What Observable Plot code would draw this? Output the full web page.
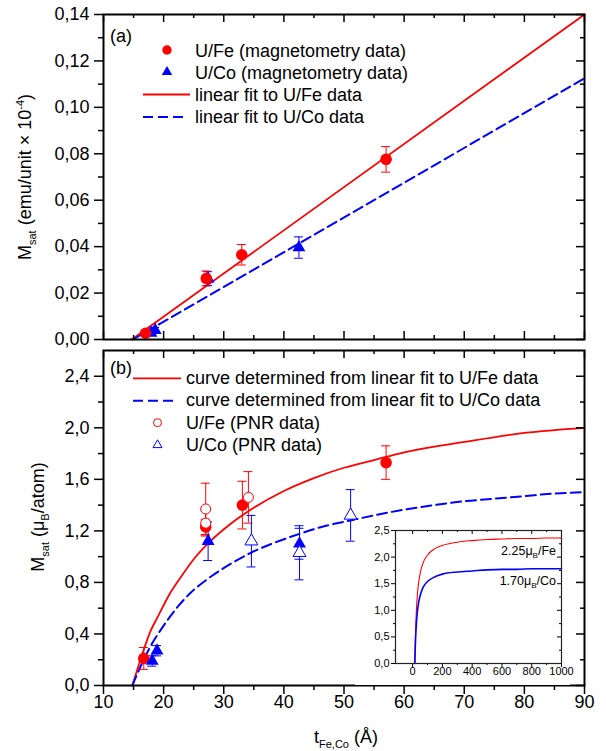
<!DOCTYPE html>
<html>
<head>
<meta charset="utf-8">
<script src="https://cdn.jsdelivr.net/npm/d3@7"></script>
<script src="https://cdn.jsdelivr.net/npm/@observablehq/plot@0.6"></script>
<style>
  html, body { margin: 0; padding: 0; background: #fff; }
  #chart { position: relative; width: 606px; height: 751px; overflow: hidden; background: #fff; }
  #chart svg { position: absolute; }
</style>
</head>
<body>
<div id="chart"></div>
<script>
// ---------------- DATA ----------------
// Panel (a): Msat (emu/unit x 10^-4) vs t (Å)
const feMagT_a = [17.0, 27.1, 33.0, 57.0];
const feMagM_a = [0.0027, 0.0263, 0.0365, 0.0776];
const feMagE_a = [0.0012, 0.0032, 0.0044, 0.0055];
const coMagT_a = [17.9, 18.6, 27.4, 42.5];
const coMagM_a = [0.0028, 0.0040, 0.0262, 0.0396];
const coMagE_a = [0.0010, 0.0012, 0.0030, 0.0046];
const feFitT_a = [14.7, 90];
const feFitM_a = [0, 0.140];
const coFitT_a = [14.9, 90];
const coFitM_a = [0, 0.1125];

// Panel (b): Msat (μB/atom) vs t (Å)
const feMagT_b = [16.7, 27.0, 33.1, 57.0];
const feMagM_b = [0.21, 1.23, 1.40, 1.73];
const feMagE_b = [0.085, 0.06, 0.185, 0.13];
const coMagT_b = [18.1, 18.9, 27.4, 42.6];
const coMagM_b = [0.19, 0.27, 1.12, 1.10];
const coMagE_b = [0.04, 0.04, 0.15, 0.12];
const fePnrT_b = [27.0, 27.0, 34.1];
const fePnrM_b = [1.37, 1.26, 1.46];
const fePnrE_b = [0.20, 0.10, 0.20];
const coPnrT_b = [34.6, 42.6, 51.1];
const coPnrM_b = [1.12, 1.03, 1.32];
const coPnrE_b = [0.20, 0.21, 0.20];
const feCurveT_b = [14.8, 15.6, 16.5, 17.8, 19, 21, 23, 25, 28, 31, 35, 40, 45, 50, 55, 60, 70, 80, 90];
const feCurveM_b = [0, 0.12, 0.25, 0.42, 0.53, 0.71, 0.85, 0.98, 1.13, 1.25, 1.38, 1.51, 1.61, 1.69, 1.75, 1.81, 1.89, 1.96, 2.00];
const coCurveT_b = [14.8, 16, 17, 18, 19.5, 21, 22.5, 24.5, 26, 28, 31, 34.5, 38, 42.8, 47, 51, 55, 59.4, 65, 70, 75, 80, 85, 90];
const coCurveM_b = [0, 0.13, 0.23, 0.32, 0.43, 0.53, 0.62, 0.72, 0.78, 0.85, 0.94, 1.03, 1.10, 1.18, 1.24, 1.28, 1.32, 1.36, 1.40, 1.43, 1.45, 1.47, 1.49, 1.50];

// Inset
const insetT  = [14.8, 16, 18, 20, 25, 30, 40, 50, 70, 100, 150, 200, 300, 400, 500, 600, 700, 800, 900, 1000];
const insetFe = [0, 0.18, 0.42, 0.62, 0.98, 1.22, 1.51, 1.69, 1.89, 2.04, 2.16, 2.22, 2.28, 2.31, 2.33, 2.34, 2.35, 2.35, 2.36, 2.36];
const insetCo = [0, 0.13, 0.32, 0.47, 0.74, 0.92, 1.14, 1.27, 1.43, 1.54, 1.63, 1.68, 1.72, 1.74, 1.76, 1.77, 1.77, 1.78, 1.78, 1.78];

// Ticks
const xMajor = [10, 20, 30, 40, 50, 60, 70, 80, 90];
const xMinor = [15, 25, 35, 45, 55, 65, 75, 85];
const yMajor_a = [0, 0.02, 0.04, 0.06, 0.08, 0.10, 0.12, 0.14];
const yMinor_a = [0.01, 0.03, 0.05, 0.07, 0.09, 0.11, 0.13];
const yMajor_b = [0, 0.4, 0.8, 1.2, 1.6, 2.0, 2.4];
const yMinor_b = [0.2, 0.6, 1.0, 1.4, 1.8, 2.2];
const insetXMajor = [0, 200, 400, 600, 800, 1000];
const insetXMinor = [100, 300, 500, 700, 900];
const insetYMajor = [0, 0.5, 1.0, 1.5, 2.0, 2.5];
const insetYMinor = [0.25, 0.75, 1.25, 1.75, 2.25];

// ---------------- HELPERS ----------------
const RED = "#ff0000", BLUE = "#0000ff";
const FONT = "'Liberation Sans', Arial, Helvetica, sans-serif";
const rows = (t, m, e) => t.map((x, i) => ({t: x, m: m[i], e: e ? e[i] : 0}));
const comma = p => d => d.toFixed(p).replace(".", ",");

function tickMarks(values, side, len, innerW, innerH, sw = 1.5) {
  const o = {stroke: "black", strokeWidth: sw};
  switch (side) {
    case "bottom-in":  return Plot.ruleX(values, {x: d => d, insetTop: innerH - len, ...o});
    case "bottom-out": return Plot.ruleX(values, {x: d => d, insetTop: innerH, insetBottom: -len, ...o});
    case "top-in":     return Plot.ruleX(values, {x: d => d, insetBottom: innerH - len, ...o});
    case "left-out":   return Plot.ruleY(values, {y: d => d, insetLeft: -len, insetRight: innerW, ...o});
    case "right-in":   return Plot.ruleY(values, {y: d => d, insetLeft: innerW - len, ...o});
  }
}
function errorBars(data, color, cap = 4.5) {
  return [
    Plot.ruleX(data, {x: "t", y1: d => d.m - d.e, y2: d => d.m + d.e, stroke: color, strokeWidth: 1}),
    Plot.ruleY(data, {y: d => d.m + d.e, x1: "t", x2: "t", insetLeft: -cap, insetRight: -cap, stroke: color, strokeWidth: 1}),
    Plot.ruleY(data, {y: d => d.m - d.e, x1: "t", x2: "t", insetLeft: -cap, insetRight: -cap, stroke: color, strokeWidth: 1})
  ];
}
function place(svg, left, top) {
  svg.style.position = "absolute";
  svg.style.left = left + "px";
  svg.style.top = top + "px";
  svg.style.maxWidth = "none";
  svg.style.overflow = "visible";
  document.getElementById("chart").appendChild(svg);
}
const triPath = (cx, cy, side) => {
  const h = side * Math.sqrt(3) / 2;
  return `M${cx},${cy - 2 * h / 3}L${cx + side / 2},${cy + h / 3}L${cx - side / 2},${cy + h / 3}Z`;
};
const annot = (svg, size) => d3.select(svg).append("g")
  .attr("font-family", FONT).attr("font-size", size).attr("fill", "black").attr("text-anchor", "start");

// ---------------- PANEL (a) ----------------
const Wd = 606;
const aH = 345, aMT = 14, aMB = 6, aML = 103, aMR = 22;
const aIW = Wd - aML - aMR, aIH = aH - aMT - aMB;
const panelA = Plot.plot({
  width: Wd, height: aH,
  marginTop: aMT, marginBottom: aMB, marginLeft: aML, marginRight: aMR,
  x: {domain: [10, 90], axis: null},
  y: {domain: [0, 0.14], axis: null},
  style: {fontFamily: FONT, fontSize: "18px", background: "transparent", color: "black"},
  marks: [
    Plot.line(rows(feFitT_a, feFitM_a), {x: "t", y: "m", stroke: RED, strokeWidth: 1.8}),
    Plot.line(rows(coFitT_a, coFitM_a), {x: "t", y: "m", stroke: BLUE, strokeWidth: 2, strokeDasharray: "10,5"}),
    ...errorBars(rows(coMagT_a, coMagM_a, coMagE_a), BLUE),
    Plot.dot(rows(coMagT_a, coMagM_a), {x: "t", y: "m", symbol: "triangle", r: 4.8, fill: BLUE}),
    ...errorBars(rows(feMagT_a, feMagM_a, feMagE_a), RED),
    Plot.dot(rows(feMagT_a, feMagM_a), {x: "t", y: "m", symbol: "circle", r: 5.8, fill: RED}),
    tickMarks(xMajor, "bottom-in", 8, aIW, aIH),
    tickMarks(xMinor, "bottom-in", 4, aIW, aIH),
    tickMarks(xMajor, "top-in", 8, aIW, aIH),
    tickMarks(xMinor, "top-in", 4, aIW, aIH),
    tickMarks(yMajor_a, "left-out", 9, aIW, aIH),
    tickMarks(yMinor_a, "left-out", 5, aIW, aIH),
    tickMarks(yMajor_a, "right-in", 8, aIW, aIH),
    tickMarks(yMinor_a, "right-in", 4, aIW, aIH),
    Plot.text(yMajor_a, {y: d => d, text: comma(2), frameAnchor: "left", dx: -14, textAnchor: "end", fontSize: 18, fill: "black"}),
    Plot.frame({stroke: "black", strokeWidth: 2})
  ]
});
place(panelA, 0, 0);

// ---------------- PANEL (b) ----------------
const bTop = 345;
const bH = 406, bMT = 5, bMB = 66, bML = 103, bMR = 22;
const bIW = Wd - bML - bMR, bIH = bH - bMT - bMB;
const panelB = Plot.plot({
  width: Wd, height: bH,
  marginTop: bMT, marginBottom: bMB, marginLeft: bML, marginRight: bMR,
  x: {domain: [10, 90], axis: null},
  y: {domain: [0, 2.6], axis: null},
  style: {fontFamily: FONT, fontSize: "18px", background: "transparent", color: "black"},
  marks: [
    Plot.line(rows(feCurveT_b, feCurveM_b), {x: "t", y: "m", stroke: RED, strokeWidth: 1.8, curve: "monotone-x"}),
    Plot.line(rows(coCurveT_b, coCurveM_b), {x: "t", y: "m", stroke: BLUE, strokeWidth: 2, strokeDasharray: "10,5", curve: "monotone-x"}),
    ...errorBars(rows(fePnrT_b, fePnrM_b, fePnrE_b), RED),
    ...errorBars(rows(coPnrT_b, coPnrM_b, coPnrE_b), BLUE),
    ...errorBars(rows(feMagT_b, feMagM_b, feMagE_b), RED),
    ...errorBars(rows(coMagT_b, coMagM_b, coMagE_b), BLUE),
    Plot.dot(rows(feMagT_b, feMagM_b), {x: "t", y: "m", symbol: "circle", r: 5.8, fill: RED}),
    Plot.dot(rows(coMagT_b, coMagM_b), {x: "t", y: "m", symbol: "triangle", r: 4.8, fill: BLUE}),
    Plot.dot(rows(fePnrT_b, fePnrM_b), {x: "t", y: "m", symbol: "circle", r: 5, fill: "white", stroke: RED, strokeWidth: 1}),
    Plot.dot(rows(coPnrT_b, coPnrM_b), {x: "t", y: "m", symbol: "triangle", r: 4.8, fill: "white", stroke: BLUE, strokeWidth: 1}),
    tickMarks(xMajor, "bottom-out", 9, bIW, bIH),
    tickMarks(xMinor, "bottom-out", 5, bIW, bIH),
    tickMarks(xMajor, "top-in", 8, bIW, bIH),
    tickMarks(xMinor, "top-in", 4, bIW, bIH),
    tickMarks(yMajor_b, "left-out", 9, bIW, bIH),
    tickMarks(yMinor_b, "left-out", 5, bIW, bIH),
    tickMarks(yMajor_b, "right-in", 8, bIW, bIH),
    tickMarks(yMinor_b, "right-in", 4, bIW, bIH),
    Plot.text(yMajor_b, {y: d => d, text: comma(1), frameAnchor: "left", dx: -14, textAnchor: "end", fontSize: 18, fill: "black"}),
    Plot.text(xMajor, {x: d => d, text: d => String(d), frameAnchor: "bottom", dy: 22, fontSize: 18, fill: "black"}),
    Plot.frame({stroke: "black", strokeWidth: 2})
  ]
});
place(panelB, 0, bTop);

// ---------------- INSET ----------------
const iLeft = 355, iTop = 520;
const iW = 215, iH = 165, iML = 40, iMR = 9, iMT = 10, iMB = 22;
const iIW = iW - iML - iMR, iIH = iH - iMT - iMB;
const inset = Plot.plot({
  width: iW, height: iH,
  marginTop: iMT, marginBottom: iMB, marginLeft: iML, marginRight: iMR,
  x: {domain: [-115, 1000], axis: null},
  y: {domain: [0, 2.5], axis: null},
  style: {fontFamily: FONT, fontSize: "11px", background: "white", color: "black"},
  marks: [
    Plot.line(rows(insetT, insetFe), {x: "t", y: "m", stroke: RED, strokeWidth: 1.1, curve: "monotone-x"}),
    Plot.line(rows(insetT, insetCo), {x: "t", y: "m", stroke: BLUE, strokeWidth: 1.6, curve: "monotone-x"}),
    tickMarks(insetXMajor, "bottom-out", 4, iIW, iIH, 1),
    tickMarks(insetXMinor, "bottom-out", 2, iIW, iIH, 1),
    tickMarks(insetXMajor, "top-in", 4, iIW, iIH, 1),
    tickMarks(insetXMinor, "top-in", 2, iIW, iIH, 1),
    tickMarks(insetYMajor, "left-out", 4, iIW, iIH, 1),
    tickMarks(insetYMinor, "left-out", 2, iIW, iIH, 1),
    tickMarks(insetYMajor, "right-in", 4, iIW, iIH, 1),
    tickMarks(insetYMinor, "right-in", 2, iIW, iIH, 1),
    Plot.text(insetYMajor, {y: d => d, text: comma(1), frameAnchor: "left", dx: -6, textAnchor: "end", fontSize: 11, fill: "black"}),
    Plot.text(insetXMajor, {x: d => d, text: d => String(d), frameAnchor: "bottom", dy: 11, fontSize: 11, fill: "black"}),
    Plot.frame({stroke: "#222", strokeWidth: 1.2})
  ]
});
place(inset, iLeft, iTop);

// ---------------- LEGENDS / TITLES (annotations) ----------------
function subText(g, parts, attrs) {
  const t = g.append("text");
  for (const [k, v] of Object.entries(attrs)) t.attr(k, v);
  let shift = 0;
  for (const p of parts) {
    const ts = t.append("tspan").text(p.s);
    const target = p.sub ? p.sub : 0;
    const dy = target - shift;
    if (dy !== 0) ts.attr("dy", dy);
    shift = target;
    if (p.size) ts.attr("font-size", p.size);
  }
  return t;
}

// panel (a)
{
  const g = annot(panelA, 18);
  g.append("text").attr("x", 110).attr("y", 42).text("(a)");
  g.append("circle").attr("cx", 167).attr("cy", 50).attr("r", 4.7).attr("fill", RED);
  g.append("path").attr("d", triPath(167, 72, 10.5)).attr("fill", BLUE);
  g.append("line").attr("x1", 143).attr("x2", 190).attr("y1", 94.5).attr("y2", 94.5).attr("stroke", RED).attr("stroke-width", 1.8);
  g.append("line").attr("x1", 143).attr("x2", 183).attr("y1", 117).attr("y2", 117).attr("stroke", BLUE).attr("stroke-width", 2).attr("stroke-dasharray", "10,5");
  g.append("text").attr("x", 195).attr("y", 56.5).text("U/Fe (magnetometry data)");
  g.append("text").attr("x", 195).attr("y", 78.5).text("U/Co (magnetometry data)");
  g.append("text").attr("x", 195).attr("y", 100.5).text("linear fit to U/Fe data");
  g.append("text").attr("x", 195).attr("y", 123).text("linear fit to U/Co data");
  subText(g, [
    {s: "M"}, {s: "sat", sub: 5, size: 11}, {s: " (emu/unit × 10"}, {s: "-4", sub: -7, size: 11}, {s: ")"}
  ], {transform: "translate(31,177) rotate(-90)", "text-anchor": "middle"});
}

// panel (b)
{
  const o = bTop;
  const g = annot(panelB, 18);
  g.append("text").attr("x", 110).attr("y", 374 - o).text("(b)");
  g.append("line").attr("x1", 133).attr("x2", 181).attr("y1", 378.3 - o).attr("y2", 378.3 - o).attr("stroke", RED).attr("stroke-width", 1.8);
  g.append("line").attr("x1", 133).attr("x2", 173).attr("y1", 400.7 - o).attr("y2", 400.7 - o).attr("stroke", BLUE).attr("stroke-width", 2).attr("stroke-dasharray", "10,5");
  g.append("circle").attr("cx", 157.5).attr("cy", 422.7 - o).attr("r", 4).attr("fill", "white").attr("stroke", RED).attr("stroke-width", 1);
  g.append("path").attr("d", triPath(157.5, 445 - o, 9)).attr("fill", "white").attr("stroke", BLUE).attr("stroke-width", 1);
  g.append("text").attr("x", 186).attr("y", 383.5 - o).text("curve determined from linear fit to U/Fe data");
  g.append("text").attr("x", 186).attr("y", 406 - o).text("curve determined from linear fit to U/Co data");
  g.append("text").attr("x", 186).attr("y", 429 - o).text("U/Fe (PNR data)");
  g.append("text").attr("x", 186).attr("y", 451 - o).text("U/Co (PNR data)");
  subText(g, [
    {s: "M"}, {s: "sat", sub: 5, size: 11}, {s: " (μ"}, {s: "B", sub: 5, size: 11}, {s: "/atom)"}
  ], {transform: `translate(44,${517 - o}) rotate(-90)`, "text-anchor": "middle"});
  subText(g, [
    {s: "t"}, {s: "Fe,Co", sub: 5, size: 11}, {s: " (Å)"}
  ], {x: 346, y: 743 - o, "text-anchor": "middle"});
}

// inset annotations
{
  const g = annot(inset, 12.5);
  subText(g, [{s: "2.25μ"}, {s: "B", sub: 3, size: 8}, {s: "/Fe"}], {x: 556 - iLeft, y: 555 - iTop, "text-anchor": "end"});
  subText(g, [{s: "1.70μ"}, {s: "B", sub: 3, size: 8}, {s: "/Co"}], {x: 556 - iLeft, y: 585 - iTop, "text-anchor": "end"});
}
</script>
</body>
</html>
